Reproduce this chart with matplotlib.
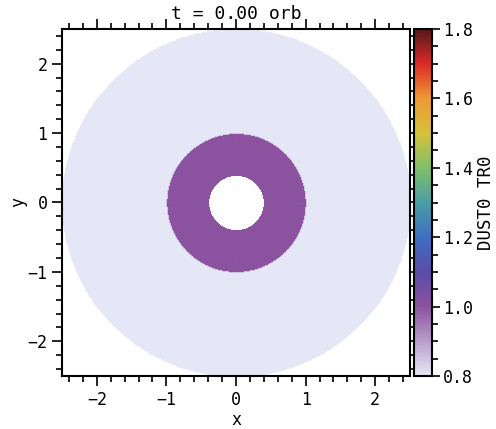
import numpy as np
import matplotlib
matplotlib.use("Agg")
import matplotlib.pyplot as plt
from matplotlib.colors import LinearSegmentedColormap
from matplotlib.ticker import MultipleLocator, AutoMinorLocator

# ---- data ----
ring_edges = [0.4, 1.0, 2.5]      # radial edges of the annuli
ring_values = [1.0, 0.8]          # DUST0 TR0 value in each annulus
vmin, vmax = 0.8, 1.8
title = "t = 0.00 orb"
cbar_label = "DUST0 TR0"
xticks = [-2, -1, 0, 1, 2]
yticks = [-2, -1, 0, 1, 2]
cbar_ticks = [0.8, 1.0, 1.2, 1.4, 1.6, 1.8]

plt.rcParams['font.family'] = ['DejaVu Sans Mono']
plt.rcParams['font.size'] = 12

cmap_colors = [
    (0.0, "#e6e7f6"),
    (0.2, "#8b52a0"),
    (0.3, "#5b4ca8"),
    (0.4, "#3d6fc2"),
    (0.5, "#4a9ea3"),
    (0.6, "#80bf68"),
    (0.7, "#d6c13c"),
    (0.8, "#ee9a32"),
    (0.9, "#dc2a27"),
    (1.0, "#55191a"),
]
cmap = LinearSegmentedColormap.from_list("dust", cmap_colors)

# polar mesh
nth = 720
theta = np.linspace(0, 2 * np.pi, nth + 1)
r_fine = []
nsub = 20
for i in range(len(ring_values)):
    rr = np.linspace(ring_edges[i], ring_edges[i + 1], nsub + 1)
    if i > 0:
        rr = rr[1:]
    r_fine.extend(rr)
r_fine = np.array(r_fine)
vals = np.empty(len(r_fine) - 1)
mid = 0.5 * (r_fine[:-1] + r_fine[1:])
for i in range(len(ring_values)):
    mask = (mid >= ring_edges[i]) & (mid <= ring_edges[i + 1])
    vals[mask] = ring_values[i]
R, T = np.meshgrid(r_fine, theta)
X = R * np.cos(T)
Y = R * np.sin(T)
C = np.tile(vals, (nth, 1))

fig = plt.figure(figsize=(4.96, 4.29), dpi=100)
ax = fig.add_axes([62 / 496, 1 - 376 / 429, 348 / 496, 347 / 429])
cax = fig.add_axes([414 / 496, 1 - 376 / 429, 18 / 496, 347 / 429])

pm = ax.pcolormesh(X, Y, C, cmap=cmap, vmin=vmin, vmax=vmax, shading="flat",
                   edgecolors="face", linewidth=0.4, antialiased=True)
ax.set_xlim(-2.5, 2.5)
ax.set_ylim(-2.5, 2.5)
ax.set_aspect("auto")
ax.set_xticks(xticks)
ax.set_yticks(yticks)
ax.xaxis.set_minor_locator(MultipleLocator(0.2))
ax.yaxis.set_minor_locator(MultipleLocator(0.2))
ax.tick_params(which="both", direction="out", top=True, right=True, width=1.2)
ax.tick_params(which="major", length=7)
ax.tick_params(which="minor", length=4)
for s in ax.spines.values():
    s.set_linewidth(1.5)
ax.set_xlabel("x", labelpad=2)
ax.set_ylabel("y", labelpad=0)
ax.set_title(title, pad=7, fontsize=13)

cb = fig.colorbar(pm, cax=cax)
cb.set_ticks(cbar_ticks)
cb.ax.yaxis.set_minor_locator(AutoMinorLocator(4))
cb.ax.tick_params(which="both", direction="out", width=1.2, pad=2)
cb.ax.tick_params(which="major", length=6)
cb.ax.tick_params(which="minor", length=4)
cb.outline.set_linewidth(1.5)
cb.set_label(cbar_label, labelpad=3, fontsize=12.5)

fig.savefig("out.png", dpi=100)
